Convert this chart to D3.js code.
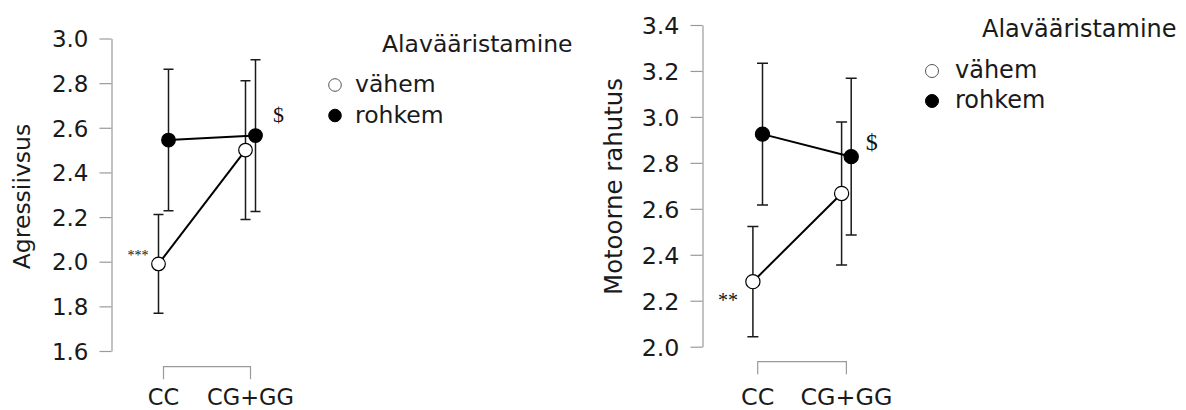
<!DOCTYPE html>
<html>
<head>
<meta charset="utf-8">
<script src="https://cdn.jsdelivr.net/npm/d3@7"></script>
<style>
  html, body { margin: 0; padding: 0; background: #fff; }
  svg { display: block; }
  text { font-family: "DejaVu Sans", Verdana, sans-serif; fill: #1a1a1a; }
  .note { font-family: "Liberation Serif", "DejaVu Serif", serif; fill: #111; }
</style>
</head>
<body>
<svg id="chart" width="1186" height="410"></svg>
<script>
// Genotype groups on the x axis
const groups = ["CC", "CG+GG"];
const seriesNames = ["vähem", "rohkem"];
const legendTitle = "Alavääristamine";

// Panel 1: aggressiveness (mean and error half-width per group)
const aggrVahem = [1.99, 2.50];
const aggrVahemErr = [0.221, 0.311];
const aggrRohkem = [2.545, 2.565];
const aggrRohkemErr = [0.317, 0.34];
const aggrTicks = [1.6, 1.8, 2.0, 2.2, 2.4, 2.6, 2.8, 3.0];

// Panel 2: motor restlessness
const motVahem = [2.283, 2.667];
const motVahemErr = [0.24, 0.311];
const motRohkem = [2.925, 2.827];
const motRohkemErr = [0.308, 0.341];
const motTicks = [2.0, 2.2, 2.4, 2.6, 2.8, 3.0, 3.2, 3.4];

const svg = d3.select("#chart");

function drawPanel(cfg) {
  const g = svg.append("g");
  const y = d3.scaleLinear().domain([cfg.ticks[0], cfg.ticks[cfg.ticks.length - 1]]).range(cfg.yRange);
  const x = d3.scalePoint().domain(groups).range(cfg.xRange);

  // y axis
  const axis = d3.axisLeft(y).tickValues(cfg.ticks).tickFormat(d3.format(".1f"))
    .tickSize(12).tickPadding(11).tickSizeOuter(0);
  const ax = g.append("g").attr("transform", `translate(${cfg.axisX},0)`).call(axis);
  ax.select(".domain").attr("stroke", "#9a9a9a").attr("stroke-width", 1.2);
  ax.selectAll(".tick line").attr("stroke", "#9a9a9a").attr("stroke-width", 1.2);
  ax.selectAll(".tick text").attr("font-size", cfg.tickFont).attr("fill", "#1a1a1a")
    .attr("font-family", "DejaVu Sans, sans-serif").attr("dy", "0.36em");

  // y title
  g.append("text")
    .attr("transform", `translate(${cfg.titleX},${cfg.titleY}) rotate(-90)`)
    .attr("text-anchor", "middle")
    .attr("font-size", cfg.titleFont)
    .text(cfg.title);

  // x bracket
  const bx0 = x(groups[0]), bx1 = x(groups[1]);
  g.append("path")
    .attr("d", `M${bx0},${cfg.bracketY + 12.5}V${cfg.bracketY}H${bx1}V${cfg.bracketY + 12.5}`)
    .attr("fill", "none").attr("stroke", "#9a9a9a").attr("stroke-width", 1.2);
  g.selectAll(".xlab").data(groups).enter().append("text")
    .attr("x", d => x(d)).attr("y", cfg.xLabelY)
    .attr("text-anchor", "middle").attr("font-size", cfg.xFont)
    .text(d => d);

  const series = [
    { name: seriesNames[0], mean: cfg.vahem, err: cfg.vahemErr, fill: "#fff", dx: -cfg.dodge },
    { name: seriesNames[1], mean: cfg.rohkem, err: cfg.rohkemErr, fill: "#000", dx: cfg.dodge }
  ];

  series.forEach(s => {
    const pts = groups.map((grp, i) => ({ x: x(grp) + s.dx, m: s.mean[i], e: s.err[i] }));
    // error bars
    pts.forEach(p => {
      const top = y(p.m + p.e), bot = y(p.m - p.e);
      g.append("path")
        .attr("d", `M${p.x},${top}V${bot}M${p.x - cfg.cap},${top}H${p.x + cfg.cap}M${p.x - cfg.cap},${bot}H${p.x + cfg.cap}`)
        .attr("fill", "none").attr("stroke", "#1a1a1a").attr("stroke-width", 1.5);
    });
    // connecting line
    g.append("path")
      .datum(pts)
      .attr("d", d3.line().x(p => p.x).y(p => y(p.m)))
      .attr("fill", "none").attr("stroke", "#000").attr("stroke-width", 2);
    // markers
    g.selectAll(null).data(pts).enter().append("circle")
      .attr("cx", p => p.x).attr("cy", p => y(p.m)).attr("r", cfg.r)
      .attr("fill", s.fill).attr("stroke", "#000").attr("stroke-width", 1.2);
  });

  // significance notes
  const wcc = { x: x(groups[0]) - cfg.dodge, y: y(cfg.vahem[0]) };
  g.append("text").attr("class", "note")
    .attr("x", wcc.x + cfg.starDx).attr("y", wcc.y + cfg.starDy)
    .attr("text-anchor", "end").attr("font-size", cfg.starFont)
    .text(cfg.stars);
  const bgg = { x: x(groups[1]) + cfg.dodge, y: y(cfg.rohkem[1]) };
  g.append("text").attr("class", "note")
    .attr("x", bgg.x + cfg.dollarDx).attr("y", bgg.y + cfg.dollarDy)
    .attr("text-anchor", "middle").attr("font-size", cfg.dollarFont)
    .text("$");

  // legend
  const lg = g.append("g");
  lg.append("text").attr("x", cfg.legX + cfg.legTitleDx).attr("y", cfg.legY)
    .attr("font-size", cfg.legFont).text(legendTitle);
  series.forEach((s, i) => {
    const cy = cfg.legY + cfg.legRow0 + i * cfg.legStep;
    lg.append("circle").attr("cx", cfg.legX).attr("cy", cy).attr("r", cfg.legR)
      .attr("fill", s.fill).attr("stroke", i === 0 ? "#555" : "#000").attr("stroke-width", 1);
    lg.append("text").attr("x", cfg.legX + cfg.legTextDx).attr("y", cy + cfg.legFont * 0.31)
      .attr("font-size", cfg.legFont).text(s.name);
  });
}

drawPanel({
  title: "Agressiivsus", ticks: aggrTicks,
  vahem: aggrVahem, vahemErr: aggrVahemErr, rohkem: aggrRohkem, rohkemErr: aggrRohkemErr,
  yRange: [351, 38.5], xRange: [163.5, 250.5], axisX: 111.5,
  tickFont: 23, titleFont: 23.5, titleX: 30, titleY: 196.5,
  bracketY: 366.7, xLabelY: 404.5, xFont: 22.5,
  dodge: 5, cap: 5, r: 6.8,
  stars: "***", starFont: 14, starDx: -10, starDy: -4,
  dollarFont: 22, dollarDx: 23, dollarDy: -14,
  legX: 335, legY: 52, legTitleDx: 47, legRow0: 33, legStep: 30.5, legR: 6.3, legTextDx: 20, legFont: 23.5
});

drawPanel({
  title: "Motoorne rahutus", ticks: motTicks,
  vahem: motVahem, vahemErr: motVahemErr, rohkem: motRohkem, rohkemErr: motRohkemErr,
  yRange: [346.7, 25], xRange: [757.7, 846.4], axisX: 702.5,
  tickFont: 23.8, titleFont: 24.4, titleX: 622, titleY: 186.5,
  bracketY: 361.7, xLabelY: 404.5, xFont: 23.8,
  dodge: 4.8, cap: 5.5, r: 7.1,
  stars: "**", starFont: 20, starDx: -15, starDy: 25,
  dollarFont: 24, dollarDx: 20.5, dollarDy: -7,
  legX: 932, legY: 37, legTitleDx: 50, legRow0: 34, legStep: 30, legR: 6.5, legTextDx: 23, legFont: 24
});
</script>
</body>
</html>
